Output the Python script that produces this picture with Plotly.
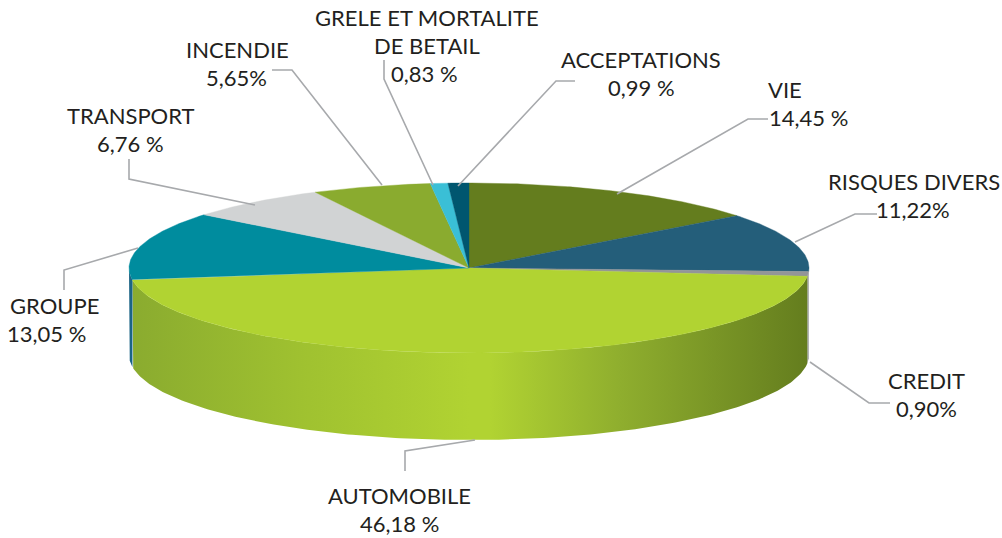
import numpy as np
import plotly.graph_objects as go

categories = ["VIE", "RISQUES DIVERS", "CREDIT", "AUTOMOBILE", "GROUPE",
              "TRANSPORT", "INCENDIE", "GRELE ET MORTALITE", "ACCEPTATIONS"]
values = [14.45, 11.22, 0.90, 46.18, 13.05, 6.76, 5.65, 0.83, 0.99]
value_labels = ["14,45 %", "11,22%", "0,90%", "46,18 %", "13,05 %",
                "6,76 %", "5,65%", "0,83 %", "0,99 %"]
colors = ["#647D1E", "#245E7A", "#939598", "#B1D332", "#008C9E",
          "#D1D3D4", "#8AAB2F", "#3ABFD6", "#00566F"]
wall_colors = {"RISQUES DIVERS": "#939598", "GROUPE": "#1B6485"}

# geometry of the drawing (page pixels)
CX, CY, RX, RY, DEPTH = 469, 268, 340, 85, 87
FONT = dict(family="Lato", size=22, color="#231F20")
LINE = "#A7A9AC"

# text: category -> list of (text, x, y)
label_pos = {
    "VIE": [("VIE", 785, 89), (None, 808, 117)],
    "RISQUES DIVERS": [("RISQUES DIVERS", 914, 181), (None, 913, 209)],
    "CREDIT": [("CREDIT", 926, 380), (None, 926, 408)],
    "AUTOMOBILE": [("AUTOMOBILE", 399, 495), (None, 399, 523)],
    "GROUPE": [("GROUPE", 54, 305), (None, 46, 333)],
    "TRANSPORT": [("TRANSPORT", 130, 115), (None, 130, 143)],
    "INCENDIE": [("INCENDIE", 237, 49), (None, 236, 77)],
    "GRELE ET MORTALITE": [("GRELE ET MORTALITE", 427, 17), ("DE BETAIL", 427, 45), (None, 424, 73)],
    "ACCEPTATIONS": [("ACCEPTATIONS", 641, 59), (None, 641, 87)],
}
# leader lines
leaders = {
    "VIE": ([617, 748, 768], [194, 119, 119]),
    "RISQUES DIVERS": ([795, 855, 877], [242, 214, 214]),
    "CREDIT": ([810, 869, 890], [362, 403, 403]),
    "AUTOMOBILE": ([475, 405, 405], [440, 451, 471]),
    "GROUPE": ([138, 64, 64], [248, 270, 290]),
    "TRANSPORT": ([129, 129, 255], [159, 179, 205]),
    "INCENDIE": ([272, 292, 382], [70, 70, 185]),
    "GRELE ET MORTALITE": ([384, 384, 433], [60, 79, 185]),
    "ACCEPTATIONS": ([575, 556, 458], [81, 81, 186]),
}
# shading of the front wall of the big slice, by page x
wall_stops = [(130, "#8AAB2F"), (300, "#9FC130"), (470, "#B1D332"), (490, "#B1D332"),
              (620, "#8FAE2E"), (808, "#647D1E")]


def ell(t):
    return CX + RX * np.sin(t), CY - RY * np.cos(t)


fig = go.Figure()
total = sum(values)
edges = np.cumsum([0] + values) / total * 2 * np.pi

# walls (front half only)
for i, c in enumerate(categories):
    a, b = max(edges[i], np.pi / 2), min(edges[i + 1], 3 * np.pi / 2)
    if b <= a:
        continue
    t = np.linspace(a, b, 200)
    x, y = ell(t)
    px = np.r_[x, x[::-1], x[0]]
    py = np.r_[y, y[::-1] + DEPTH, y[0]]
    kw = dict(fillcolor=wall_colors.get(c, colors[i]))
    if c == "AUTOMOBILE":
        lo, hi = wall_stops[0][0], wall_stops[-1][0]
        kw = dict(fillgradient=dict(
            type="horizontal", start=lo, stop=hi,
            colorscale=[[(p - lo) / (hi - lo), col] for p, col in wall_stops]))
    fig.add_trace(go.Scatter(x=px, y=py, mode="lines", fill="toself",
                             line=dict(width=0), hoverinfo="skip", **kw))

# top slices
for i, c in enumerate(categories):
    t = np.linspace(edges[i], edges[i + 1], max(8, int(values[i] * 8)))
    x, y = ell(t)
    fig.add_trace(go.Scatter(x=np.r_[CX, x, CX], y=np.r_[CY, y, CY], mode="lines",
                             fill="toself", fillcolor=colors[i],
                             line=dict(width=0.4, color=colors[i]),
                             name=c, hoverinfo="skip"))

# leaders and labels
for i, c in enumerate(categories):
    lx, ly = leaders[c]
    fig.add_trace(go.Scatter(x=lx, y=ly, mode="lines",
                             line=dict(color=LINE, width=1.6), hoverinfo="skip"))
    for text, x, y in label_pos[c]:
        fig.add_annotation(x=x, y=y, text=text if text else value_labels[i], showarrow=False,
                           xanchor="center", yanchor="middle", font=FONT)

fig.update_layout(
    width=1002, height=538, margin=dict(l=0, r=0, t=0, b=0),
    paper_bgcolor="white", plot_bgcolor="white", showlegend=False,
    xaxis=dict(range=[0, 1002], visible=False, fixedrange=True),
    yaxis=dict(range=[538, 0], visible=False, fixedrange=True),
)
fig.write_html("out.html", config=dict(displayModeBar=False),
               post_script="document.body.style.margin='0';document.documentElement.style.overflow='hidden';")
